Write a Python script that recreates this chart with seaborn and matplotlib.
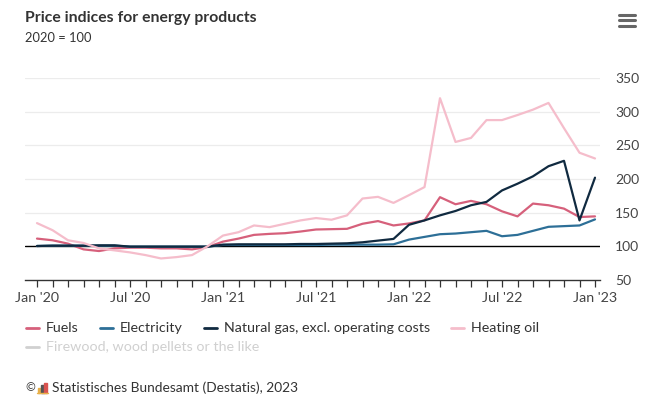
import pandas as pd
import numpy as np
import matplotlib
matplotlib.use("Agg")
import matplotlib.pyplot as plt
import seaborn as sns
from matplotlib.lines import Line2D
from matplotlib.patches import Rectangle

# data: monthly price indices, 2020 = 100, Jan 2020 .. Jan 2023
months = pd.date_range("2020-01-01", "2023-01-01", freq="MS")

fuels = [111.5, 109, 104, 95.5, 93, 97, 98, 98, 97, 97, 95.5, 99,
         107, 111.5, 117, 118.5, 119.5, 122, 125, 125.5, 126, 133.5, 137.5, 131,
         134, 138.5, 173, 162.5, 167.5, 162.5, 152, 144.5, 163.5, 161, 156, 143.5,
         144.5]
electricity = [100.5, 101, 101, 101, 101, 101, 99.5, 99.5, 99.5, 99.5, 99.5, 99.5,
               102, 102, 102, 102, 102, 102, 102, 102.5, 102.5, 102.5, 102.5, 103,
               110, 114, 118, 119, 121, 123, 115, 117, 123, 129, 130, 131,
               140]
natural_gas = [100.5, 101, 101, 101, 101.5, 101.5, 99.5, 99.5, 99.5, 99.5, 99.5, 99.5,
               102.5, 103, 103, 103, 103, 103.5, 103.5, 104, 104.5, 106, 108.5, 111,
               132, 138.5, 146, 152.5, 161, 166, 183, 193, 204, 219, 227, 138.5,
               202]
heating_oil = [134.5, 124, 109, 105, 97, 94, 91, 87, 82, 84, 87, 100,
               116, 121, 131, 128.5, 133.5, 138.5, 142, 139.5, 146, 171, 173.5, 164.5,
               176, 188, 320, 255, 261, 287.5, 287.5, 295, 303, 313, 275.5, 239,
               230.5]

series_names = ["Fuels", "Electricity", "Natural gas, excl. operating costs", "Heating oil"]
hidden_name = "Firewood, wood pellets or the like"
colors = ["#d6607b", "#2d6f97", "#102a40", "#f5bdcb"]
hidden_color = "#d0d0d0"

y_ticks = [50, 100, 150, 200, 250, 300, 350]
x_labels = ["Jan '20", "Jul '20", "Jan '21", "Jul '21", "Jan '22", "Jul '22", "Jan '23"]

# long table for seaborn, x is month number since Jan 2020
df = pd.DataFrame({
    "month": np.tile(np.arange(len(months)), 4),
    "value": fuels + electricity + natural_gas + heating_oil,
    "series": np.repeat(series_names, len(months)),
})

sns.set_theme(style="white")
plt.rcParams["font.family"] = ["Lato", "DejaVu Sans"]

W, H = 649, 409
fig = plt.figure(figsize=(W / 100, H / 100), dpi=100)

def fx(x):
    return x / W

def fy(y):
    return 1 - y / H

ax = fig.add_axes([fx(25), fy(280), fx(600) - fx(25), fy(78) - fy(280)])

for v in y_ticks[1:]:
    ax.axhline(v, color="#000000" if v == 100 else "#ececec", lw=1 if v == 100 else 0.9, zorder=1)

sns.lineplot(data=df, x="month", y="value", hue="series", hue_order=series_names,
             palette=colors, linewidth=1.6, legend=False, ax=ax, zorder=3)

ax.set_xlim((25 - 37) / 15.5, (600 - 37) / 15.5)
ax.set_ylim(50, 350)
ax.set_xlabel("")
ax.set_ylabel("")

ax.set_xticks(np.arange(0, 37, 6))
ax.set_xticklabels(x_labels)
ax.set_xticks(np.arange(0, 37), minor=True)
ax.tick_params(axis="x", which="both", direction="out", length=5, width=0.9,
               color="#333333", bottom=True, pad=4, labelsize=10.3, labelcolor="#444444")

ax.yaxis.tick_right()
ax.set_yticks(y_ticks)
ax.tick_params(axis="y", length=0, pad=11, labelsize=10, labelcolor="#444444")
for lab in ax.get_yticklabels():
    lab.set_horizontalalignment("left")

for s in ["top", "left", "right"]:
    ax.spines[s].set_visible(False)
ax.spines["bottom"].set_color("#333333")
ax.spines["bottom"].set_linewidth(1)

# title and subtitle
fig.text(fx(25), fy(18), "Price indices for energy products", fontsize=11.3,
         fontweight="bold", color="#333333", va="center")
fig.text(fx(25), fy(38), "2020 = 100", fontsize=9.3, color="#333333", va="center")

# menu icon
for yy in [14.5, 20, 25.5]:
    fig.add_artist(Line2D([fx(619), fx(635)], [fy(yy), fy(yy)], color="#666666", lw=2.2))

# legend, laid out as a flowing row
fig.canvas.draw()
renderer = fig.canvas.get_renderer()

def legend_item(x, y, label, color, text_color):
    fig.add_artist(Line2D([fx(x), fx(x + 13)], [fy(y), fy(y)], color=color, lw=2))
    t = fig.text(fx(x + 20), fy(y), label, fontsize=10.3, color=text_color, va="center")
    bb = t.get_window_extent(renderer)
    return x + 20 + bb.width

x0 = 26
for name, c in zip(series_names, colors):
    end = legend_item(x0, 328, name, c, "#333333")
    x0 = end + 21
legend_item(26, 347, hidden_name, hidden_color, hidden_color)

# footer
fig.text(fx(25), fy(388), "\u00a9", fontsize=8.5, color="#333333", va="center")
for i, (h, c) in enumerate(zip([5, 8, 10], ["#e8b04a", "#555555", "#d9534f"])):
    fig.add_artist(Rectangle((fx(38 + i * 3.2), fy(393)), fx(2.4), h / H, color=c))
fig.add_artist(Line2D([fx(37), fx(48)], [fy(393), fy(393)], color="#e8b04a", lw=1))
fig.text(fx(52), fy(388), "Statistisches Bundesamt (Destatis), 2023", fontsize=9.9,
         color="#333333", va="center")

fig.savefig("out.png", dpi=100)
